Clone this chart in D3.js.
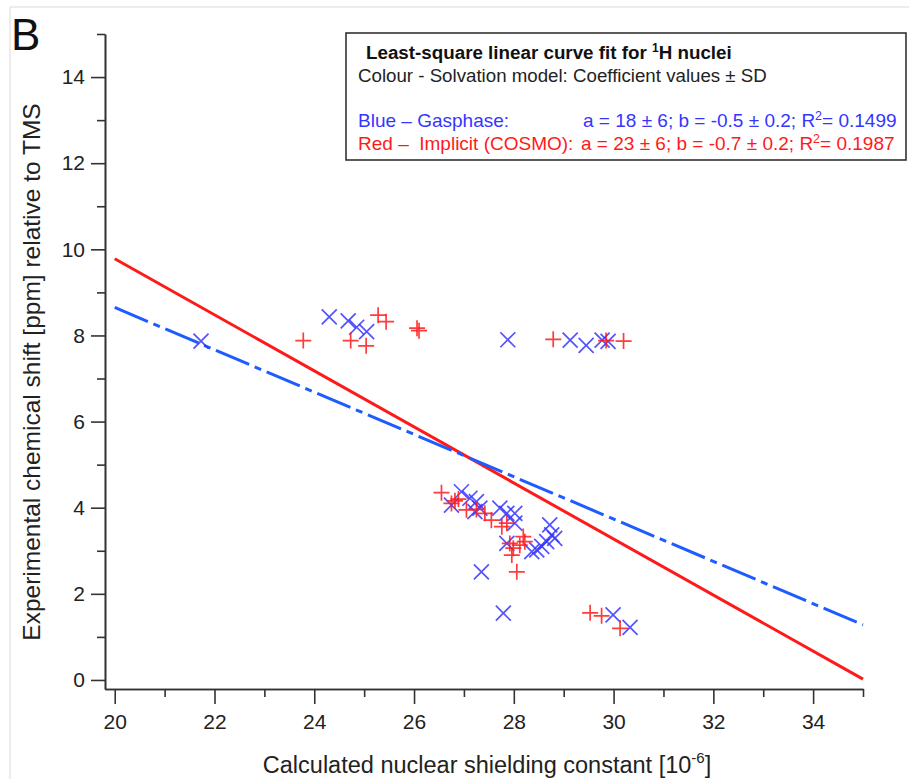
<!DOCTYPE html>
<html>
<head>
<meta charset="utf-8">
<script src="https://cdn.jsdelivr.net/npm/d3@7"></script>
<style>
  body { margin: 0; background: #fff; }
  svg text { font-family: "Liberation Sans", Arial, sans-serif; white-space: pre; }
</style>
</head>
<body>
<svg id="chart" width="909" height="779"></svg>
<script>
// gas phase (blue X)
const gasX = [21.73, 24.30, 24.68, 24.85, 25.05, 27.88, 29.13, 29.45, 29.77, 29.89,
  26.95, 26.75, 27.12, 27.25, 27.32, 27.22, 27.72, 27.86, 28.02, 28.02,
  27.86, 28.36, 28.46, 28.56, 28.72, 28.76, 28.82, 28.66, 27.35, 27.79, 29.99, 30.33];
const gasY = [7.87, 8.43, 8.34, 8.19, 8.09, 7.90, 7.89, 7.77, 7.89, 7.86,
  4.37, 4.06, 4.22, 4.14, 3.99, 3.91, 3.99, 3.87, 3.87, 3.64,
  3.17, 2.98, 3.02, 3.10, 3.60, 3.37, 3.29, 3.21, 2.51, 1.55, 1.51, 1.22];

// implicit COSMO (red +)
const cosmoX = [23.78, 24.73, 25.04, 25.28, 25.44, 26.06, 26.10, 28.79, 29.85, 30.20,
  26.55, 26.75, 26.82, 26.89, 27.05, 27.25, 27.42, 27.55, 27.76, 27.86,
  27.92, 27.99, 27.96, 28.12, 28.19, 28.22, 28.06, 29.53, 29.76, 30.13];
const cosmoY = [7.88, 7.88, 7.76, 8.47, 8.32, 8.17, 8.11, 7.91, 7.88, 7.87,
  4.35, 4.10, 4.16, 4.20, 3.95, 3.96, 3.87, 3.71, 3.56, 3.64,
  3.17, 3.06, 2.90, 3.13, 3.33, 3.21, 2.51, 1.56, 1.49, 1.20];

// fitted lines, ends read at x = 20 and 35
const fitX = [20, 35];
const gasFitY = [8.65, 1.28];
const cosmoFitY = [9.78, 0.02];

const xMajor = [20, 22, 24, 26, 28, 30, 32, 34];
const xMinor = [21, 23, 25, 27, 29, 31, 33, 35];
const yMajor = [0, 2, 4, 6, 8, 10, 12, 14];
const yMinor = [1, 3, 5, 7, 9, 11, 13, 15];

const blue = "#3535ff";
const blueLine = "#1f5cff";
const red = "#ff1a1a";

const svg = d3.select("#chart");

// faint panel edge
svg.append("path")
    .attr("d", "M10,779 V7 H909")
    .attr("fill", "none")
    .attr("stroke", "#d9d9d9")
    .attr("stroke-width", 1);

const x = d3.scaleLinear().domain([19.805, 35]).range([105, 863]);
const y = d3.scaleLinear().domain([-0.21, 15]).range([689, 34]);

const axisColor = "#333";

// x axis
const gx = svg.append("g").attr("transform", `translate(0,${y(-0.21)})`);
gx.call(d3.axisBottom(x).tickValues(xMajor).tickSize(15).tickSizeOuter(0).tickPadding(10));
const gx2 = svg.append("g").attr("transform", `translate(0,${y(-0.21)})`);
gx2.call(d3.axisBottom(x).tickValues(xMinor).tickSize(8).tickSizeOuter(0).tickFormat(""));

// y axis
const gy = svg.append("g").attr("transform", `translate(${x(19.805)},0)`);
gy.call(d3.axisLeft(y).tickValues(yMajor).tickSize(14).tickSizeOuter(0).tickPadding(6));
const gy2 = svg.append("g").attr("transform", `translate(${x(19.805)},0)`);
gy2.call(d3.axisLeft(y).tickValues(yMinor).tickSize(8).tickSizeOuter(0).tickFormat(""));

svg.selectAll(".domain, .tick line").attr("stroke", axisColor).attr("stroke-width", 1.6);
svg.selectAll(".tick text").attr("fill", "#222").style("font-size", "21px");

// fit lines
const line = d3.line().x(d => x(d[0])).y(d => y(d[1]));
svg.append("path")
    .datum(fitX.map((v, i) => [v, cosmoFitY[i]]))
    .attr("d", line)
    .attr("fill", "none")
    .attr("stroke", red)
    .attr("stroke-width", 3);
svg.append("path")
    .datum(fitX.map((v, i) => [v, gasFitY[i]]))
    .attr("d", line)
    .attr("fill", "none")
    .attr("stroke", blueLine)
    .attr("stroke-width", 3)
    .attr("stroke-dasharray", "36,6,7,6");

// markers
const s = 7.5;
svg.append("g").selectAll("path")
    .data(gasX.map((v, i) => [v, gasY[i]]))
    .join("path")
    .attr("transform", d => `translate(${x(d[0])},${y(d[1])})`)
    .attr("d", `M${-s},${-s}L${s},${s}M${-s},${s}L${s},${-s}`)
    .attr("stroke", blue)
    .attr("stroke-opacity", 0.85)
    .attr("stroke-width", 1.7)
    .attr("fill", "none");

const p = 8;
svg.append("g").selectAll("path")
    .data(cosmoX.map((v, i) => [v, cosmoY[i]]))
    .join("path")
    .attr("transform", d => `translate(${x(d[0])},${y(d[1])})`)
    .attr("d", `M${-p},0H${p}M0,${-p}V${p}`)
    .attr("stroke", red)
    .attr("stroke-opacity", 0.85)
    .attr("stroke-width", 1.7)
    .attr("fill", "none");

// axis titles
const xt = svg.append("text")
    .attr("x", 487).attr("y", 773)
    .attr("text-anchor", "middle")
    .style("font-size", "23.5px")
    .attr("fill", "#222");
xt.append("tspan").text("Calculated nuclear shielding constant [10");
xt.append("tspan").attr("dy", -10).style("font-size", "15px").text("-6");
xt.append("tspan").attr("dy", 10).text("]");

svg.append("text")
    .attr("transform", "translate(40,372) rotate(-90)")
    .attr("text-anchor", "middle")
    .style("font-size", "24.5px")
    .attr("fill", "#222")
    .text("Experimental chemical shift [ppm] relative to TMS");

// panel letter
svg.append("text")
    .attr("x", 11).attr("y", 50)
    .style("font-size", "44px")
    .attr("fill", "#111")
    .text("B");

// legend box
const lg = svg.append("g");
lg.append("rect")
    .attr("x", 346).attr("y", 33).attr("width", 560).attr("height", 127)
    .attr("fill", "#fff")
    .attr("stroke", "#333")
    .attr("stroke-width", 1.6);

const t1 = lg.append("text").attr("x", 366).attr("y", 59)
    .style("font-size", "18.8px").style("font-weight", "bold").attr("fill", "#111");
t1.append("tspan").text("Least-square linear curve fit for ");
t1.append("tspan").attr("dy", -7).style("font-size", "12px").text("1");
t1.append("tspan").attr("dy", 7).text("H nuclei");

lg.append("text").attr("x", 358).attr("y", 82)
    .style("font-size", "18.7px").attr("fill", "#222")
    .text("Colour - Solvation model: Coefficient values \u00b1 SD");

function legendRow(yy, color, label, a, b, r2, x2) {
    lg.append("text").attr("x", 358).attr("y", yy)
        .style("font-size", "19px").attr("fill", color).text(label);
    const t = lg.append("text").attr("x", x2).attr("y", yy)
        .style("font-size", "19px").attr("fill", color);
    t.append("tspan").text(`a = ${a}; b = ${b}; R`);
    t.append("tspan").attr("dy", -7).style("font-size", "12.5px").text("2");
    t.append("tspan").attr("dy", 7).text(`= ${r2}`);
}
legendRow(127, blue, "Blue \u2013 Gasphase:", "18 \u00b1 6", "-0.5 \u00b1 0.2", "0.1499", 583);
legendRow(150, red, "Red \u2013  Implicit (COSMO):", "23 \u00b1 6", "-0.7 \u00b1 0.2", "0.1987", 581);
</script>
</body>
</html>
